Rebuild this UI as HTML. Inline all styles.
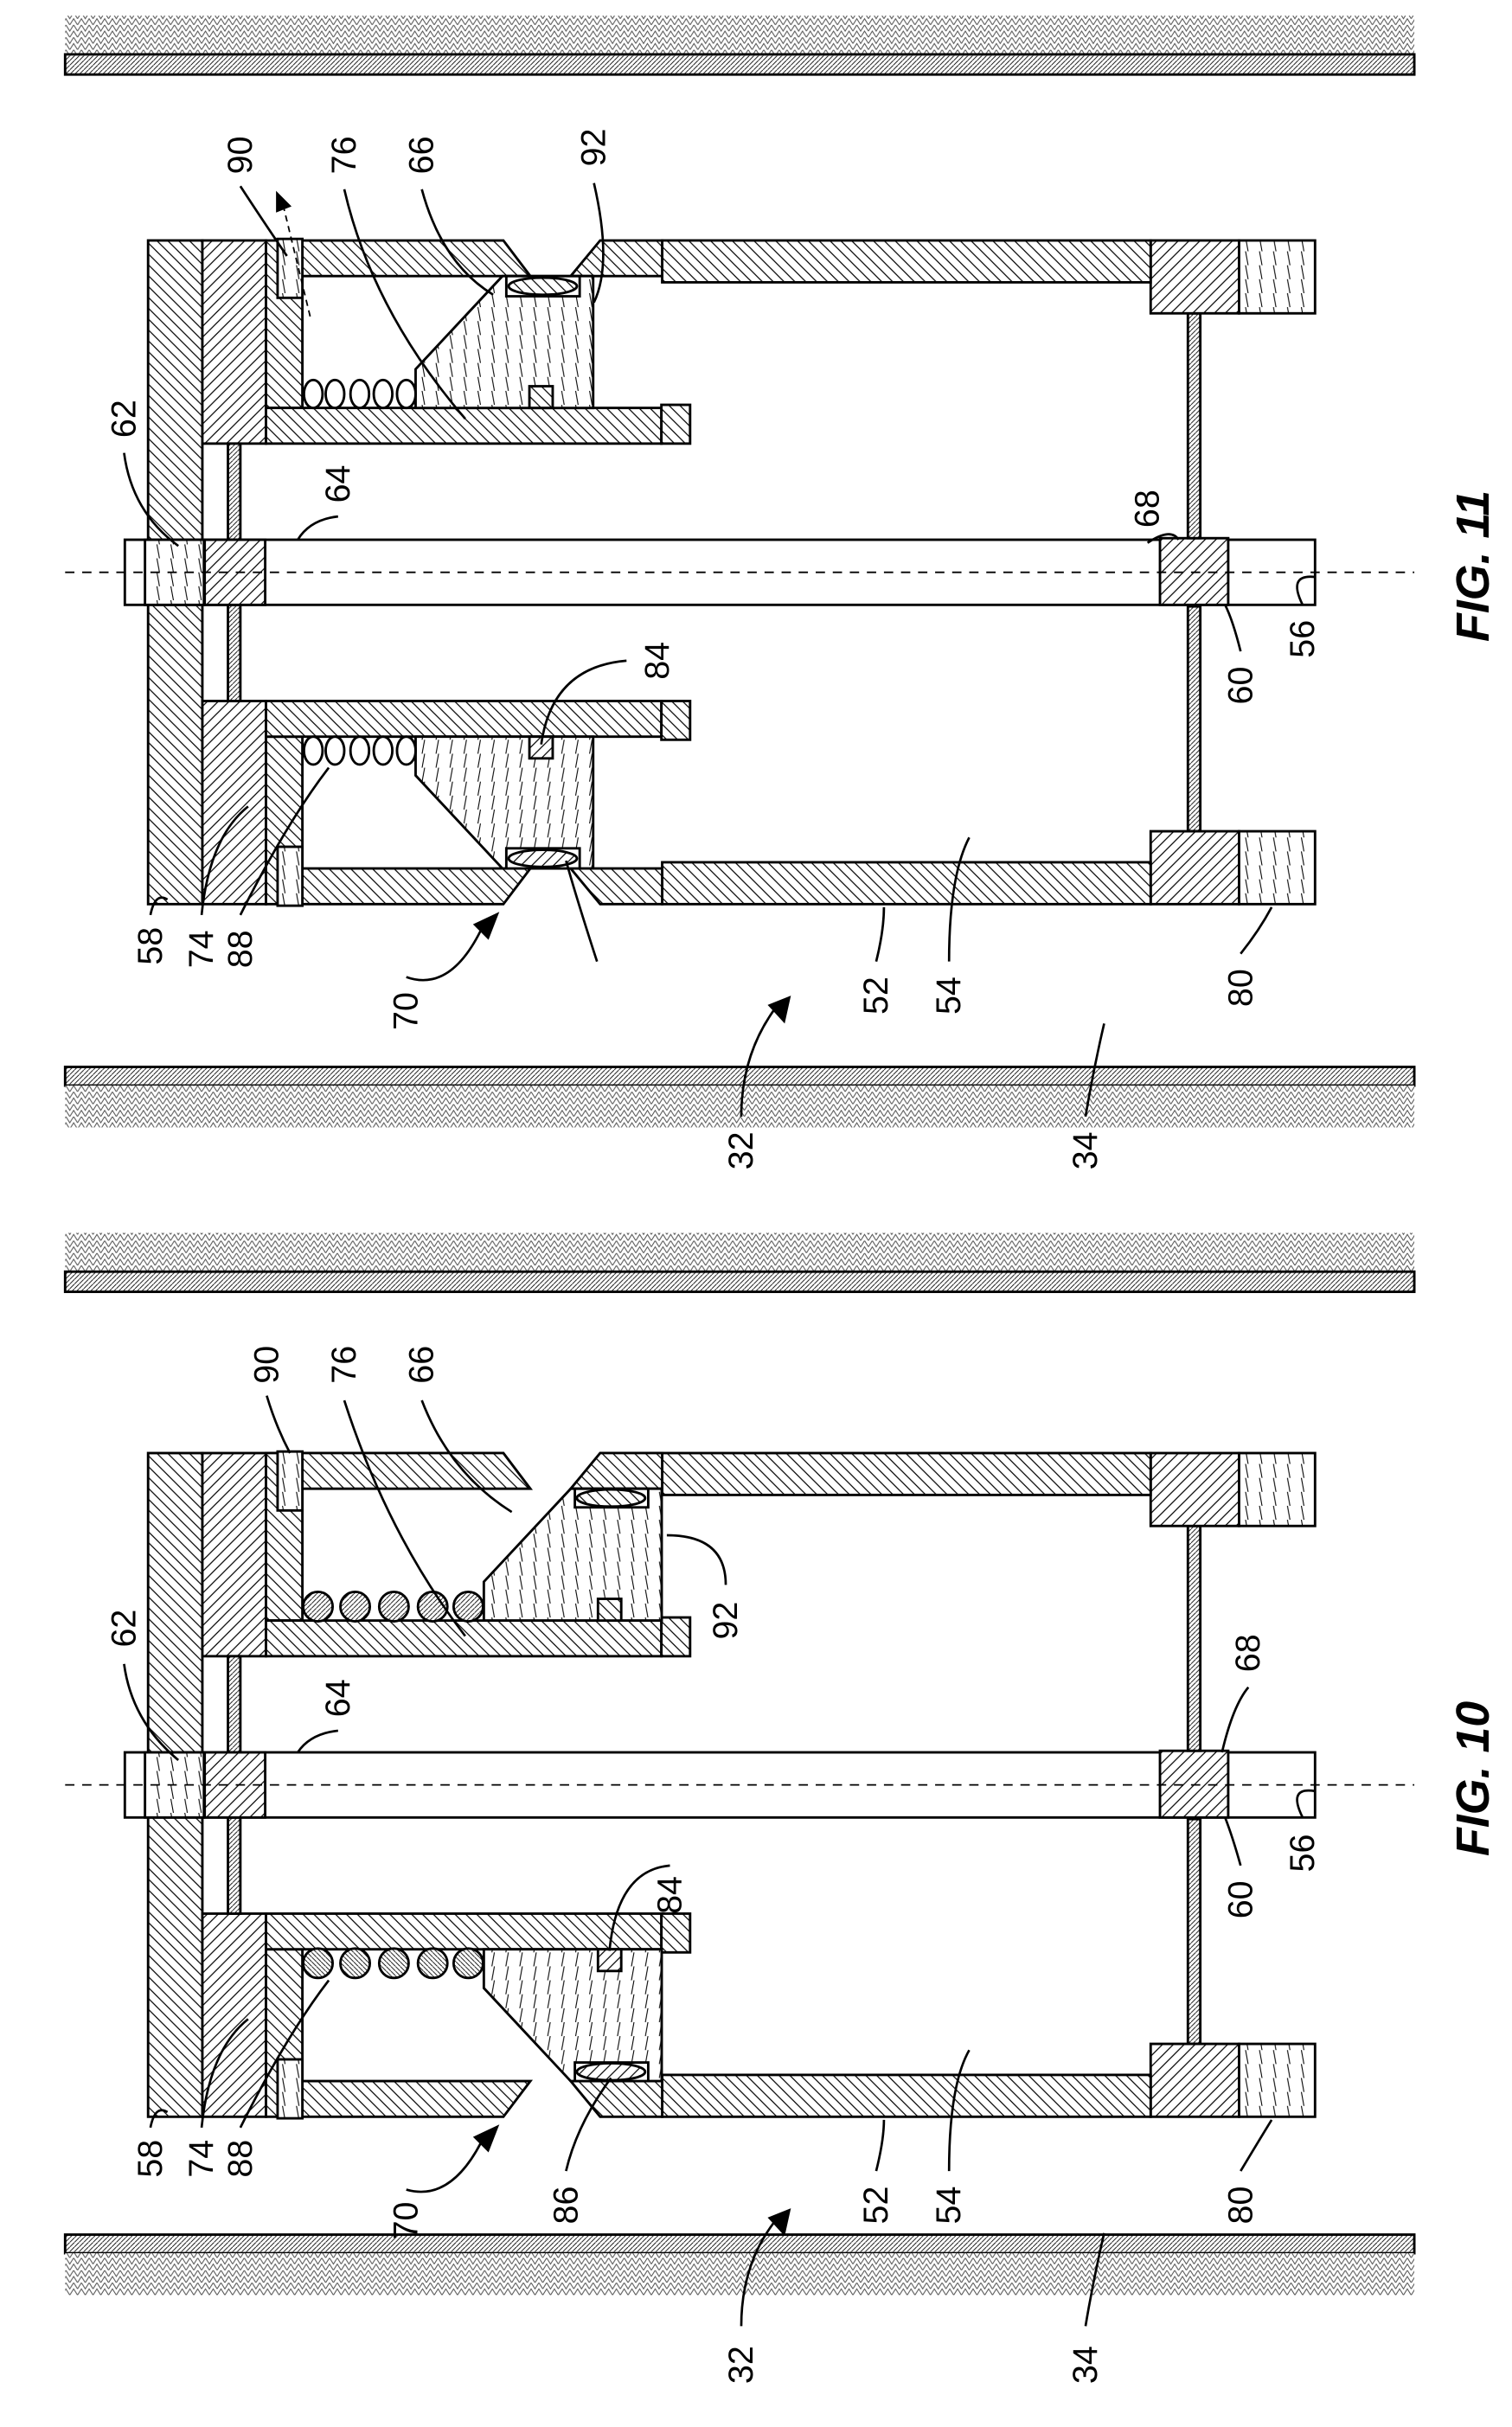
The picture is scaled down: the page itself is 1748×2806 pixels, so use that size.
<!DOCTYPE html>
<html><head><meta charset="utf-8"><style>html,body{margin:0;padding:0;background:#fff}svg{display:block}</style></head><body>
<svg width="1748" height="2806" viewBox="0 0 975 1565" xmlns="http://www.w3.org/2000/svg">
<defs>
<pattern id="hb" width="7" height="7" patternUnits="userSpaceOnUse"><rect width="7" height="7" fill="#fff"/><path d="M-1,-1 L8,8 M-8,-1 L1,8 M6,-1 L15,8" stroke="#000" stroke-width="0.7"/></pattern>
<pattern id="hf" width="7" height="7" patternUnits="userSpaceOnUse"><rect width="7" height="7" fill="#fff"/><path d="M-1,8 L8,-1 M-8,8 L1,-1 M6,8 L15,-1" stroke="#000" stroke-width="0.7"/></pattern>
<pattern id="hv" width="9" height="9" patternUnits="userSpaceOnUse"><rect width="9" height="9" fill="#fff"/><path d="M2,-1 L4,10" stroke="#000" stroke-width="0.6"/></pattern>
<pattern id="hs" width="3" height="3" patternUnits="userSpaceOnUse"><rect width="3" height="3" fill="#fff"/><path d="M0,3 L3,0" stroke="#000" stroke-width="0.5"/></pattern>
<pattern id="gr" width="10" height="8" patternUnits="userSpaceOnUse"><rect width="10" height="8" fill="#fff"/><path d="M0,4 L2.5,0 L5,4 L7.5,0 L10,4 M0,8 L2.5,4 L5,8 L7.5,4 L10,8" stroke="#555" stroke-width="0.6" fill="none"/></pattern>
<g id="body" stroke="#000" stroke-width="1.6">
<rect x="95.5" y="-214" width="35" height="428" fill="url(#hb)"/>
<rect x="130.5" y="-214" width="41" height="131" fill="url(#hf)"/>
<rect x="130.5" y="83" width="41" height="131" fill="url(#hf)"/>
<rect x="147" y="-83" width="8" height="62" fill="url(#hs)"/>
<rect x="147" y="21" width="8" height="62" fill="url(#hs)"/>
<rect x="80.5" y="-21" width="767.5" height="42" fill="#fff"/>
<rect x="93.5" y="-21" width="38" height="42" fill="url(#hv)"/>
<rect x="132" y="-21" width="39" height="42" fill="url(#hf)"/>
<rect x="748" y="-22" width="44" height="43" fill="url(#hf)"/>
<rect x="766" y="-167" width="8" height="145" fill="url(#hs)"/>
<rect x="766" y="22" width="8" height="145" fill="url(#hs)"/>
<rect x="742" y="-214" width="57" height="47" fill="url(#hf)"/>
<rect x="799" y="-214" width="49" height="47" fill="url(#hv)"/>
<rect x="742" y="167" width="57" height="47" fill="url(#hf)"/>
<rect x="799" y="167" width="49" height="47" fill="url(#hv)"/>
<rect x="427" y="-214" width="315" height="27" fill="url(#hb)"/>
<rect x="427" y="187" width="315" height="27" fill="url(#hb)"/>
<polygon points="171.5,-214 324.6,-214 342,-191 195,-191 195,-106 171.5,-106" fill="url(#hb)"/>
<polygon points="171.5,214 324.6,214 342,191 195,191 195,106 171.5,106" fill="url(#hb)"/>
<polygon points="387,-214 427,-214 427,-191 368,-191" fill="url(#hb)"/>
<polygon points="387,214 427,214 427,191 368,191" fill="url(#hb)"/>
<rect x="171.5" y="-106" width="255" height="23" fill="url(#hb)"/>
<rect x="426.5" y="-108" width="18.5" height="25" fill="url(#hb)"/>
<rect x="171.5" y="83" width="255" height="23" fill="url(#hb)"/>
<rect x="426.5" y="83" width="18.5" height="25" fill="url(#hb)"/>
<rect x="179" y="-215" width="16" height="38" fill="url(#hv)"/>
<rect x="179" y="177" width="16" height="38" fill="url(#hv)"/>
<line x1="42" y1="0" x2="912" y2="0" stroke-width="1" stroke-dasharray="6,5"/>
</g>
<g id="p11" stroke="#000" stroke-width="1.6">
<polygon points="324,-191 382.5,-191 382.5,-106 268,-106 268,-131" fill="url(#hv)"/>
<rect x="326.5" y="-191" width="47.3" height="13" fill="#fff"/>
<ellipse cx="350" cy="-184.5" rx="22" ry="5.5" fill="url(#hb)"/>
<rect x="341.4" y="-120" width="15" height="14" fill="url(#hb)"/>
<ellipse cx="202" cy="-115" rx="6" ry="9" fill="#fff"/><ellipse cx="216" cy="-115" rx="6" ry="9" fill="#fff"/><ellipse cx="232" cy="-115" rx="6" ry="9" fill="#fff"/><ellipse cx="247" cy="-115" rx="6" ry="9" fill="#fff"/><ellipse cx="262" cy="-115" rx="6" ry="9" fill="#fff"/>
</g>
<g id="p10" stroke="#000" stroke-width="1.6">
<polygon points="368,-191 426.7,-191 426.7,-106 312,-106 312,-131" fill="url(#hv)"/>
<rect x="370.7" y="-191" width="47.3" height="12" fill="#fff"/>
<ellipse cx="394" cy="-185" rx="22" ry="5.5" fill="url(#hb)"/>
<rect x="385.6" y="-120" width="15" height="14" fill="url(#hb)"/>
<circle cx="205" cy="-115" r="9.5" fill="url(#hs)"/><circle cx="229" cy="-115" r="9.5" fill="url(#hs)"/><circle cx="254" cy="-115" r="9.5" fill="url(#hs)"/><circle cx="279" cy="-115" r="9.5" fill="url(#hs)"/><circle cx="302" cy="-115" r="9.5" fill="url(#hs)"/>
</g>
</defs>
<g stroke="#000" stroke-width="1.6">
<rect x="42" y="10" width="870" height="25" fill="url(#gr)" stroke="none"/>
<rect x="42" y="35" width="870" height="13" fill="url(#hs)"/>
<rect x="42" y="688" width="870" height="12" fill="url(#hs)"/>
<rect x="42" y="700" width="870" height="27" fill="url(#gr)" stroke="none"/>
<rect x="42" y="795" width="870" height="25" fill="url(#gr)" stroke="none"/>
<rect x="42" y="820" width="870" height="13" fill="url(#hs)"/>
<rect x="42" y="1441" width="870" height="12" fill="url(#hs)"/>
<rect x="42" y="1453" width="870" height="27" fill="url(#gr)" stroke="none"/>
</g>
<g transform="translate(0,369)"><use href="#body"/><use href="#p11"/><use href="#p11" transform="scale(1,-1)"/>
<path d="M200,-165 L183,-235" stroke="#000" stroke-width="1" stroke-dasharray="4,3" fill="none"/><path d="M178,-246 L178,-232 L188,-236 Z" fill="#000"/></g>
<g transform="translate(0,1151)"><use href="#body"/><use href="#p10"/><use href="#p10" transform="scale(1,-1)"/></g>
<g stroke="#000" stroke-width="1.5" fill="none">
<path d="M155,120 Q168,140 185,165"/><path d="M222,122 Q240,200 300,270"/><path d="M272,122 Q285,170 318,190"/><path d="M383,118 Q395,170 383,195"/>
<path d="M80,292 Q85,330 115,352"/><path d="M218,333 Q200,335 192,348"/><path d="M740,350 Q755,340 760,348"/><path d="M404,426 Q356,430 349,480"/>
<path d="M800,420 Q795,400 790,390"/><path d="M840,390 Q830,370 848,372"/>
<path d="M97,590 Q100,575 108,580"/><path d="M130,590 Q135,540 160,520"/><path d="M155,590 Q185,530 212,495"/><path d="M262,630 Q290,640 310,600"/><path d="M385,620 Q372,580 365,555"/>
<path d="M565,620 Q570,600 570,585"/><path d="M612,620 Q612,565 625,540"/><path d="M800,615 Q812,600 820,585"/><path d="M478,720 Q478,680 500,650"/><path d="M700,720 Q705,690 712,660"/>
<path d="M172,900 Q178,920 187,937"/><path d="M222,903 Q250,990 300,1055"/><path d="M272,903 Q290,950 330,975"/><path d="M468,1022 Q468,990 430,990"/>
<path d="M80,1073 Q85,1110 115,1135"/><path d="M218,1116 Q200,1118 192,1130"/><path d="M805,1088 Q795,1100 788,1130"/><path d="M432,1203 Q398,1206 393,1258"/>
<path d="M800,1203 Q795,1185 790,1172"/><path d="M840,1172 Q830,1152 848,1155"/>
<path d="M97,1372 Q100,1357 108,1362"/><path d="M130,1372 Q135,1322 160,1302"/><path d="M155,1372 Q185,1312 212,1277"/><path d="M262,1412 Q290,1420 310,1382"/><path d="M365,1400 Q372,1370 394,1340"/>
<path d="M565,1400 Q570,1380 570,1367"/><path d="M612,1400 Q612,1345 625,1322"/><path d="M800,1400 Q812,1380 820,1367"/><path d="M478,1500 Q478,1460 500,1432"/><path d="M700,1500 Q705,1470 712,1440"/>
</g>
<path d="M305,596 L322,588 L315,606 Z" fill="#000"/><path d="M495,648 L510,642 L506,660 Z" fill="#000"/>
<path d="M305,1378 L322,1370 L315,1388 Z" fill="#000"/><path d="M495,1430 L510,1424 L506,1442 Z" fill="#000"/>
<g font-family="Liberation Sans, sans-serif" font-size="22" text-anchor="middle" dominant-baseline="central" fill="#000">
<text transform="translate(155,100) rotate(-90)">90</text><text transform="translate(222,100) rotate(-90)">76</text><text transform="translate(272,100) rotate(-90)">66</text><text transform="translate(383,95) rotate(-90)">92</text>
<text transform="translate(80,270) rotate(-90)">62</text><text transform="translate(218,312) rotate(-90)">64</text><text transform="translate(740,328) rotate(-90)">68</text><text transform="translate(424,426) rotate(-90)">84</text>
<text transform="translate(800,442) rotate(-90)">60</text><text transform="translate(840,412) rotate(-90)">56</text>
<text transform="translate(97,610) rotate(-90)">58</text><text transform="translate(130,612) rotate(-90)">74</text><text transform="translate(155,612) rotate(-90)">88</text><text transform="translate(262,652) rotate(-90)">70</text>
<text transform="translate(565,642) rotate(-90)">52</text><text transform="translate(612,642) rotate(-90)">54</text><text transform="translate(800,637) rotate(-90)">80</text><text transform="translate(478,742) rotate(-90)">32</text><text transform="translate(700,742) rotate(-90)">34</text>
<text transform="translate(172,880) rotate(-90)">90</text><text transform="translate(222,880) rotate(-90)">76</text><text transform="translate(272,880) rotate(-90)">66</text><text transform="translate(468,1045) rotate(-90)">92</text>
<text transform="translate(80,1050) rotate(-90)">62</text><text transform="translate(218,1095) rotate(-90)">64</text><text transform="translate(805,1066) rotate(-90)">68</text><text transform="translate(432,1222) rotate(-90)">84</text>
<text transform="translate(800,1225) rotate(-90)">60</text><text transform="translate(840,1195) rotate(-90)">56</text>
<text transform="translate(97,1392) rotate(-90)">58</text><text transform="translate(130,1392) rotate(-90)">74</text><text transform="translate(155,1392) rotate(-90)">88</text><text transform="translate(262,1432) rotate(-90)">70</text><text transform="translate(365,1422) rotate(-90)">86</text>
<text transform="translate(565,1422) rotate(-90)">52</text><text transform="translate(612,1422) rotate(-90)">54</text><text transform="translate(800,1422) rotate(-90)">80</text><text transform="translate(478,1525) rotate(-90)">32</text><text transform="translate(700,1525) rotate(-90)">34</text>
<text transform="translate(950,365) rotate(-90)" font-size="30" font-weight="bold" font-style="italic">FIG. 11</text>
<text transform="translate(950,1147) rotate(-90)" font-size="30" font-weight="bold" font-style="italic">FIG. 10</text>
</g>
</svg>
</body></html>
